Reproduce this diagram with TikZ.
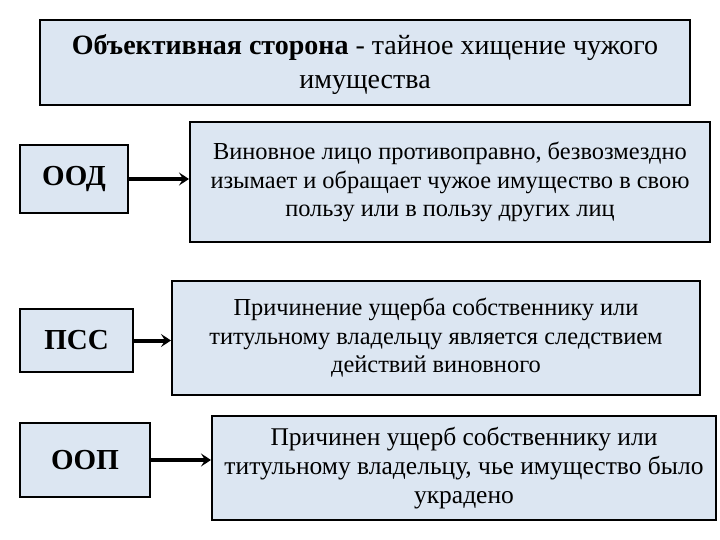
\documentclass[tikz,border=0pt]{standalone}
\usepackage{fontspec}
\setmainfont{Liberation Serif}
\usetikzlibrary{arrows.meta}
\definecolor{boxfill}{HTML}{DCE6F2}
\begin{document}
\begin{tikzpicture}[x=1pt,y=-1pt,
  box/.style={draw=black,line width=2pt,fill=boxfill,inner sep=0pt,align=center},
  conn/.style={line width=4pt,-{Stealth[length=10pt,width=13pt,inset=4pt]}},
  txt/.style={font=\fontsize{24.4}{28.5}\selectfont},
  lbl/.style={font=\bfseries\fontsize{29}{30}\selectfont}]
\useasboundingbox (0,0) rectangle (720,540);
% title
\node[box,minimum width=650pt,minimum height=85pt,font=\fontsize{28}{34}\selectfont] (title) at (365,62.5)
  {\rule{0pt}{24pt}\textbf{Объективная сторона} - тайное хищение чужого\\имущества};
% left boxes
\node[box,lbl,minimum width=108pt,minimum height=68pt] (ood) at (74,179) {ООД};
\node[box,lbl,minimum width=113pt,minimum height=63pt] (pss) at (76.5,340.5) {ПСС};
\node[box,lbl,minimum width=130pt,minimum height=74pt] (oop) at (85,460) {ООП};
% right boxes
\node[box,txt,minimum width=520pt,minimum height=120pt] (d1) at (450,182)
  {Виновное лицо противоправно, безвозмездно\\изымает и обращает чужое имущество в свою\\пользу или в пользу других лиц};
\node[box,txt,minimum width=528pt,minimum height=114pt] (d2) at (436,338)
  {Причинение ущерба собственнику или\\титульному владельцу является следствием\\действий виновного};
\node[box,minimum width=504pt,minimum height=104pt,font=\fontsize{25.5}{29}\selectfont] (d3) at (464,468)
  {Причинен ущерб собственнику или\\титульному владельцу, чье имущество было\\украдено};
% connectors
\draw[conn] (ood.east) -- (ood.east -| d1.west);
\draw[conn] (pss.east) -- (pss.east -| d2.west);
\draw[conn] (oop.east) -- (oop.east -| d3.west);
\end{tikzpicture}
\end{document}
